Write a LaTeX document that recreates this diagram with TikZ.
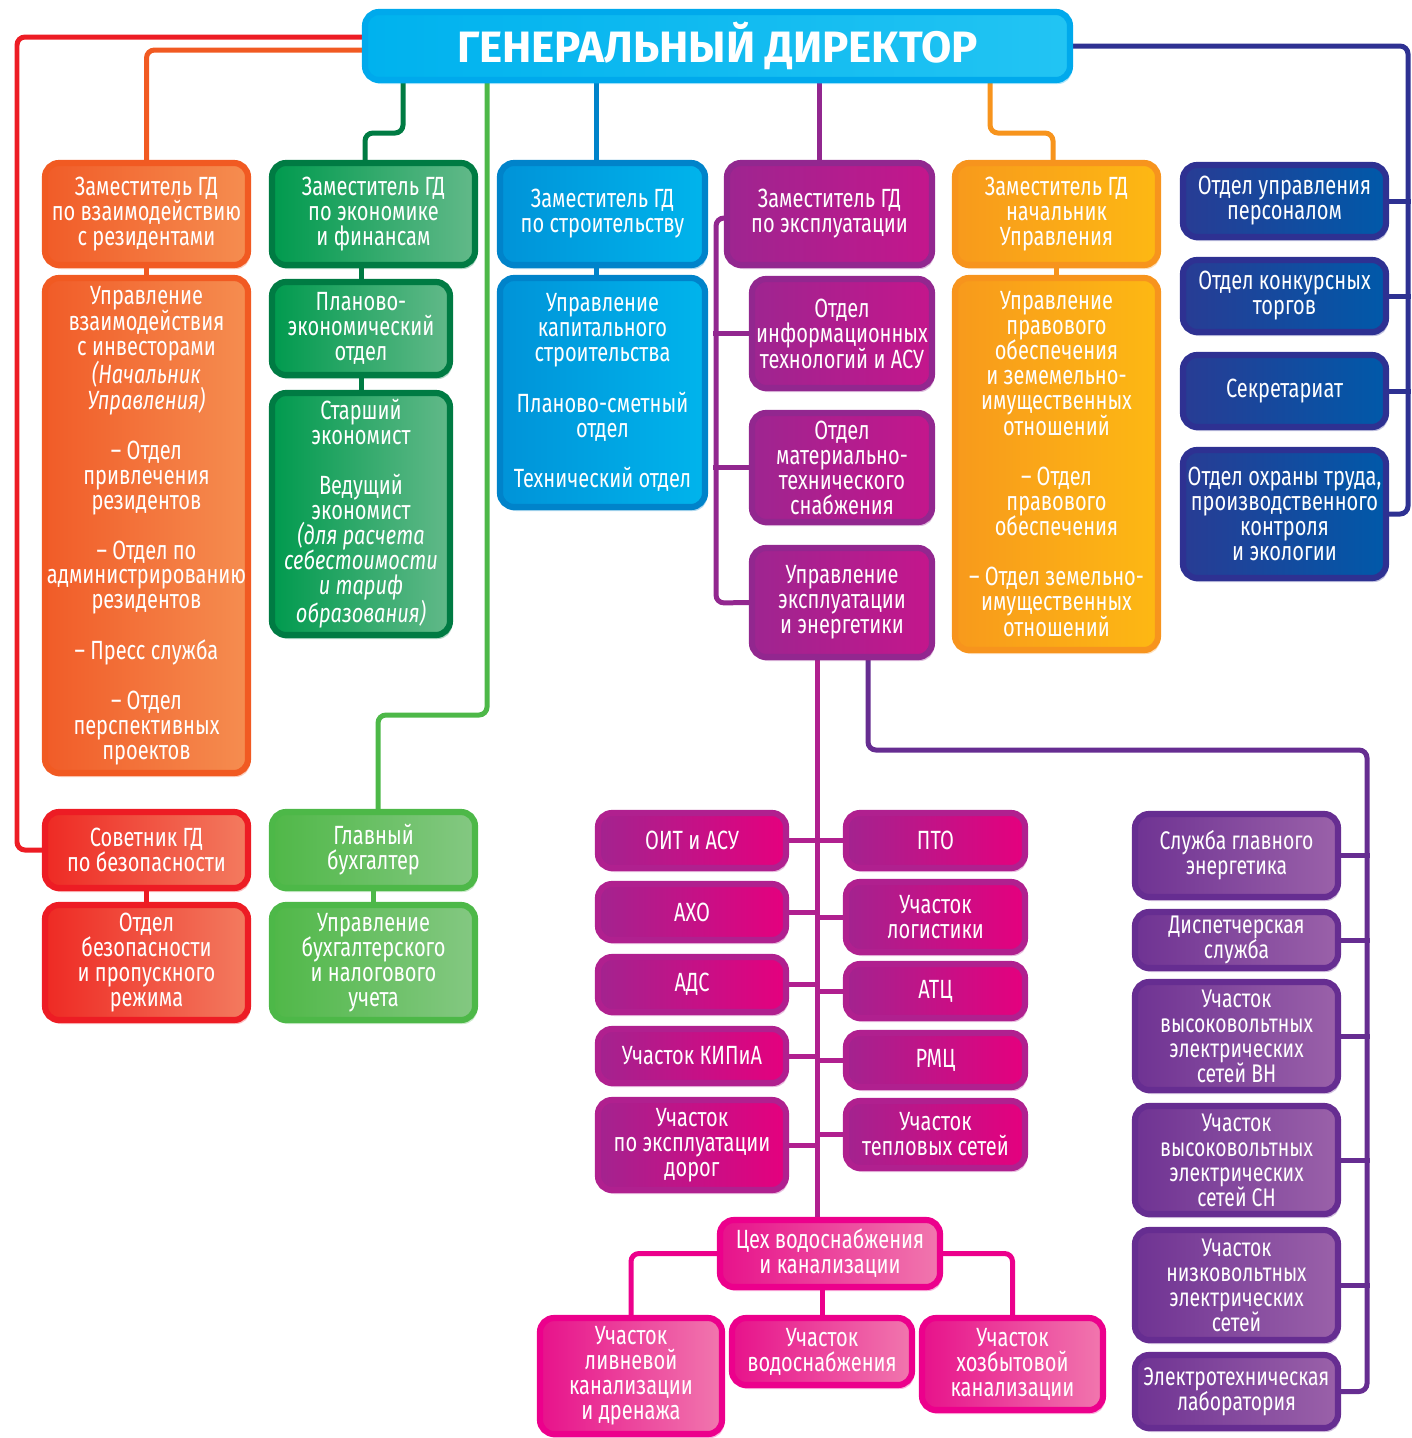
\documentclass[tikz,border=0pt]{standalone}
\usepackage{fontspec}
\setmainfont{Fira Sans}[FakeStretch=0.76]
\newfontfamily\titlefont{Fira Sans}
\usetikzlibrary{shadows,backgrounds}

\definecolor{orgA}{HTML}{F15A22}\definecolor{orgB}{HTML}{F15C28}\definecolor{orgC}{HTML}{F58D50}
\definecolor{dgrA}{HTML}{007B43}\definecolor{dgrB}{HTML}{009A4E}\definecolor{dgrC}{HTML}{62B989}
\definecolor{bluA}{HTML}{0083CA}\definecolor{bluB}{HTML}{0093D8}\definecolor{bluC}{HTML}{00B4EC}
\definecolor{purA}{HTML}{92278F}\definecolor{purB}{HTML}{9E2590}\definecolor{purC}{HTML}{C4168C}
\definecolor{yelA}{HTML}{F7941D}\definecolor{yelB}{HTML}{F89A1C}\definecolor{yelC}{HTML}{FDB813}
\definecolor{navA}{HTML}{2E3192}\definecolor{navB}{HTML}{283C94}\definecolor{navC}{HTML}{0059A9}
\definecolor{redA}{HTML}{ED1C24}\definecolor{redB}{HTML}{EE2A24}\definecolor{redC}{HTML}{F37B5F}
\definecolor{lgrA}{HTML}{4DB848}\definecolor{lgrB}{HTML}{50B848}\definecolor{lgrC}{HTML}{84C882}
\definecolor{magA}{HTML}{B0208F}\definecolor{magB}{HTML}{A3238F}\definecolor{magC}{HTML}{E5007E}
\definecolor{pnkA}{HTML}{EC008C}\definecolor{pnkB}{HTML}{E7128B}\definecolor{pnkC}{HTML}{F177AE}
\definecolor{vioA}{HTML}{662D91}\definecolor{vioB}{HTML}{6F3393}\definecolor{vioC}{HTML}{9A61A9}
\definecolor{cyaA}{HTML}{00A9EC}\definecolor{cyaB}{HTML}{00B2EE}\definecolor{cyaC}{HTML}{22C4F3}

\newcommand\boxfont{\fontsize{15}{14.2}\selectfont\lineskip=0pt}
\newcommand\vioboxfont{\fontsize{14.5}{14.2}\selectfont\lineskip=0pt}

\begin{document}
\begin{tikzpicture}
[x=0.02cm,y=-0.02cm,%
  box/.style n args={3}{draw=#1,left color=#2,right color=#3,line width=3.5pt,
    rounded corners=0.28cm,inner sep=0pt,text=white,align=center,font=\boxfont,
    drop shadow={opacity=0.3,fill=#1,shadow xshift=0.04cm,shadow yshift=-0.08cm}},%
  spot/.style args={#1,#2,#3,#4}{at={({(#1+#3)/2},{(#2+#4)/2})},
    minimum width={(#3-#1)*0.02cm},minimum height={(#4-#2)*0.02cm}},%
  org/.style={box={orgA}{orgB}{orgC}},%
  dgr/.style={box={dgrA}{dgrB}{dgrC}},%
  blu/.style={box={bluA}{bluB}{bluC}},%
  pur/.style={box={purA}{purB}{purC}},%
  yel/.style={box={yelA}{yelB}{yelC}},%
  nav/.style={box={navA}{navB}{navC}},%
  rd/.style={box={redA}{redB}{redC}},%
  lgr/.style={box={lgrA}{lgrB}{lgrC}},%
  mag/.style={box={magA}{magB}{magC}},%
  pnk/.style={box={pnkA}{pnkB}{pnkC}},%
  vio/.style={box={vioA}{vioB}{vioC},font=\vioboxfont},%
  cya/.style={box={cyaA}{cyaB}{cyaC}},%
  link/.style={line width=0.1cm,rounded corners=0.16cm}]
\useasboundingbox (0,0) rectangle (1412,1438);

% top
\node[cya,font=\titlefont\bfseries\fontsize{25}{28}\selectfont,spot={365,12,1070,80}] (gd) {ГЕНЕРАЛЬНЫЙ ДИРЕКТОР};

% deputies
\node[org,spot={45,163,248,265}] (zres) {Заместитель ГД\\по взаимодействию\\с резидентами};
\node[dgr,spot={272,163,475,265}] (zeco) {Заместитель ГД\\по экономике\\и финансам};
\node[blu,spot={500,163,705,265}] (zstr) {Заместитель ГД\\по строительству};
\node[pur,spot={727,163,932,265}] (zexp) {Заместитель ГД\\по эксплуатации};
\node[yel,spot={955,163,1158,265}] (znach) {Заместитель ГД\\начальник\\Управления};

% right column
\node[nav,spot={1183,165,1386,237}] (pers) {Отдел управления\\персоналом};
\node[nav,spot={1183,260,1386,332}] (torg) {Отдел конкурсных\\торгов};
\node[nav,spot={1183,355,1386,427}] (sekr) {Секретариат};
\node[nav,spot={1183,450,1386,578}] (ohr) {Отдел охраны труда,\\производственного\\контроля\\и экологии};

% second row
\node[org,spot={45,278,248,773}] (uvz) {Управление\\взаимодействия\\с инвесторами\\{\itshape(Начальник}\\{\itshape Управления)}\\[14.2pt]
  – Отдел\\привлечения\\резидентов\\[14.2pt]– Отдел по\\администрированию\\резидентов\\[14.2pt]
  – Пресс служба\\[14.2pt]– Отдел\\перспективных\\проектов};
\node[dgr,spot={272,282,450,375}] (pe) {Планово-\\экономический\\отдел};
\node[dgr,spot={272,393,450,635}] (stek) {Старший\\экономист\\[14.2pt]Ведущий\\экономист\\{\itshape(для расчета}\\
  {\itshape себестоимости}\\{\itshape и тариф}\\{\itshape образования)}};
\node[blu,spot={500,278,705,507}] (ukap) {Управление\\капитального\\строительства\\[14.2pt]
  Планово-сметный\\отдел\\[14.2pt]Технический отдел};
\node[pur,spot={752,279,932,388}] (it) {Отдел\\информационных\\технологий и АСУ};
\node[pur,spot={752,413,932,522}] (mts) {Отдел\\материально-\\технического\\снабжения};
\node[pur,spot={752,548,932,657}] (uexp) {Управление\\эксплуатации\\и энергетики};
\node[yel,spot={955,278,1158,650}] (upr) {Управление\\правового\\обеспечения\\и земемельно-\\имущественных\\отношений\\[14.2pt]
  – Отдел\\правового\\обеспечения\\[14.2pt]– Отдел земельно-\\имущественных\\отношений};

% lower left
\node[rd,spot={45,812,248,888}] (sov) {Советник ГД\\по безопасности};
\node[rd,spot={45,905,248,1020}] (otb) {Отдел\\безопасности\\и пропускного\\режима};
\node[lgr,spot={272,812,475,888}] (glb) {Главный\\бухгалтер};
\node[lgr,spot={272,905,475,1020}] (ubu) {Управление\\бухгалтерского\\и налогового\\учета};

% exploitation units
\node[mag,spot={598,813,786,868}] (oit) {ОИТ и АСУ};
\node[mag,spot={598,884,786,940}] (aho) {АХО};
\node[mag,spot={598,957,786,1012}] (ads) {АДС};
\node[mag,spot={598,1029,786,1083}] (kip) {Участок КИПиА};
\node[mag,spot={598,1100,786,1190}] (dor) {Участок\\по эксплуатации\\дорог};
\node[mag,spot={846,813,1025,868}] (pto) {ПТО};
\node[mag,spot={846,882,1025,952}] (log) {Участок\\логистики};
\node[mag,spot={846,964,1025,1018}] (atc) {АТЦ};
\node[mag,spot={846,1033,1025,1087}] (rmc) {РМЦ};
\node[mag,spot={846,1101,1025,1168}] (tep) {Участок\\тепловых сетей};

% water
\node[pnk,spot={720,1220,940,1287}] (ceh) {Цех водоснабжения\\и канализации};
\node[pnk,spot={540,1318,722,1434}] (liv) {Участок\\ливневой\\канализации\\и дренажа};
\node[pnk,spot={732,1318,912,1385}] (vod) {Участок\\водоснабжения};
\node[pnk,spot={922,1318,1103,1410}] (hoz) {Участок\\хозбытовой\\канализации};

% energy
\node[vio,spot={1135,814,1338,897}] (sge) {Служба главного\\энергетика};
\node[vio,spot={1135,912,1338,968}] (disp) {Диспетчерская\\служба};
\node[vio,spot={1135,982,1338,1090}] (vn) {Участок\\высоковольтных\\электрических\\сетей ВН};
\node[vio,spot={1135,1106,1338,1214}] (sn) {Участок\\высоковольтных\\электрических\\сетей СН};
\node[vio,spot={1135,1230,1338,1340}] (nvs) {Участок\\низковольтных\\электрических\\сетей};
\node[vio,spot={1135,1355,1338,1428}] (lab) {Электротехническая\\лаборатория};

\coordinate (mtop) at ([xshift=-0.5cm]uexp.south);

\begin{scope}[on background layer]
\draw[link,draw=redA] ([yshift=0.18cm]gd.west) -| (17,850) -- (sov.west);
\draw[link,draw=orgA] ([yshift=-0.08cm]gd.west) -| (zres.north);
\draw[link,draw=dgrA] (403,0 |- gd.south) |- (365,133) -- (365,0 |- zeco.north);
\draw[link,draw=lgrA] (487,0 |- gd.south) |- (378,715) -- (378,0 |- glb.north);
\draw[link,draw=bluA] ([xshift=-0.12cm]zstr.north |- gd.south) -- ([xshift=-0.12cm]zstr.north);
\draw[link,draw=purA] ([xshift=-0.2cm]zexp.north |- gd.south) -- ([xshift=-0.2cm]zexp.north);
\draw[link,draw=yelA] (990,0 |- gd.south) |- (1053,133) -- (1053,0 |- znach.north);
\draw[link,draw=navA] (gd.east) -| (1408,514) -- (ohr.east);
\foreach \n in {pers,torg,sekr}
  \draw[link,draw=navA] (\n.east) -- ++(22,0);
\draw[link,draw=orgA] (zres) -- (uvz);
\draw[link,draw=dgrA] (pe) -- (pe |- zeco.south);
\draw[link,draw=dgrA] (pe) -- (stek);
\draw[link,draw=bluA] ([xshift=-0.12cm]zstr.center) -- ([xshift=-0.12cm]ukap.center);
\draw[link,draw=yelA] (znach) -- (upr);
\draw[link,draw=redA] (sov) -- (otb);
\draw[link,draw=lgrA] (glb) -- (ubu);
\draw[link,draw=purA] ([yshift=-0.08cm]zexp.west) -| (716,603) -- (uexp.west);
\foreach \n in {it,mts}
  \draw[link,draw=purA] (\n.west) -- ++(-36,0);
\draw[link,draw=magA] (mtop) -- (mtop |- ceh.north);
\foreach \n in {oit,aho,ads,kip,dor}
  \draw[link,draw=magA] (\n.east) -- (\n.east -| mtop);
\foreach \n in {pto,log,atc,rmc,tep}
  \draw[link,draw=magA] (\n.west) -- (\n.west -| mtop);
\draw[link,draw=vioA] ([xshift=0.52cm]uexp.south) |- (1367,750) |- (lab.east);
\foreach \n in {sge,disp,vn,sn,nvs}
  \draw[link,draw=vioA] (\n.east) -- ++(29,0);
\draw[link,draw=pnkA] (ceh.west) -| (liv.north);
\draw[link,draw=pnkA] (ceh.east) -| (hoz.north);
\draw[link,draw=pnkA] (vod) -- (vod |- ceh);
\end{scope}
\end{tikzpicture}
\end{document}
